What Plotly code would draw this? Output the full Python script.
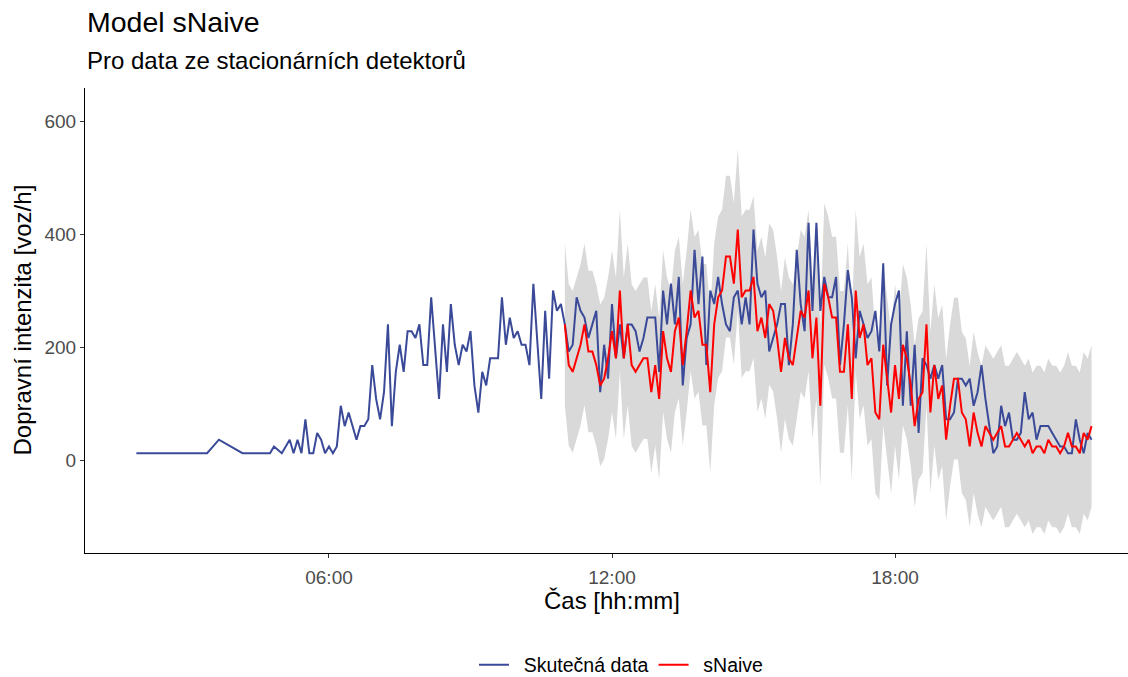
import plotly.graph_objects as go
import pandas as pd

# ---------------- data ----------------
day = "2021-03-01 "
actual_start = day + "01:55"
forecast_start = day + "11:00"
step = "5min"

# observed intensity [voz/h], 5-minute samples; None = missing sample (line drawn across)
actual_night = (
    [12] + [None] * 17 + [12, None, None, 36] + [None] * 5 + [12] + [None] * 6
    + [12, 24, None, 12, None, 36, 12, 36, 12, 72, 12, 12, 48, 36]
)
actual_morning = [
    12, 24, 12, 24, 96, 60, 84, 60, 36, 60,
    60, 72, 168, 108, 72, 120, 240, 60, 156, 204,
    156, 228, 228, 216, 240, 168, 168, 288, 204, 108,
    240, 156, 276, 204, 168, 204, 192, 228, 132, 84,
    156, 132, 180, 180, 180, 288, 204, 252, 216, 228,
    204, 204, 168, 312, 204, 108, 264, 144, 300, 264,
    276,
]
actual_forecast_period = [
    240, 192, 204, 288, 264, 252, 216, 240, 264, 120,
    204, 144, 276, 180, 240, 180, 240, 240, 228, 192,
    216, 252, 252, 252, 156, 300, 240, 312, 240, 324,
    132, 216, 240, 372, 276, 360, 168, 300, 276, 324,
    276, 240, 228, 288, 300, 240, 288, 240, 408, 312,
    288, 300, 192, 216, 240, 276, 276, 168, 240, 372,
    276, 228, 420, 264, 420, 264, 324, 288, 288, 324,
    168, 240, 336, 288, 180, 264, 240, 216, 228, 264,
    192, 348, 132, 240, 276, 300, 96, 228, 96, 204,
    48, 180, 168, 144, 168, 144, 168, 72, 72, 84,
    144, 144, 132, 144, 96, 120, 168, 108, 60, 12,
    24, 96, 60, 84, 36, 36, 48, 120, 72, 84,
    36, 60, 60, 60, 48, 36, 24, 24, 12, 12,
    72, 36, 12, 48, 36,
]

# sNaive point forecast [voz/h]
snaive_values = [
    240, 168, 156, 180, 204, 240, 192, 192, 168, 132,
    144, 180, 228, 180, 300, 180, 240, 168, 156, 168,
    180, 180, 120, 168, 108, 228, 180, 156, 228, 252,
    168, 228, 300, 252, 264, 204, 204, 120, 240, 288,
    300, 360, 360, 312, 408, 288, 300, 300, 324, 228,
    252, 216, 276, 264, 216, 156, 216, 180, 168, 216,
    264, 252, 300, 180, 252, 96, 312, 288, 252, 252,
    156, 156, 240, 108, 300, 216, 240, 168, 180, 84,
    72, 204, 144, 84, 168, 108, 204, 180, 132, 60,
    108, 120, 240, 84, 168, 108, 132, 36, 96, 144,
    144, 84, 72, 24, 84, 48, 24, 60, 48, 36,
    48, 60, 24, 24, 36, 48, 36, 24, 36, 12,
    24, 24, 12, 36, 24, 24, 12, 24, 48, 24,
    24, 12, 48, 36, 60,
]

# half width of the prediction interval (constant over the horizon)
interval_half_width = 143

tick_labels = ["06:00", "12:00", "18:00"]
y_ticks = [0, 200, 400, 600]

# ---------------- build ----------------
actual_values = actual_night + actual_morning + actual_forecast_period
actual_t = pd.date_range(actual_start, periods=len(actual_values), freq=step)
fc_t = pd.date_range(forecast_start, periods=len(snaive_values), freq=step)
lower = [v - interval_half_width for v in snaive_values]
upper = [v + interval_half_width for v in snaive_values]

FONT = "Liberation Sans, Arial, Helvetica, sans-serif"
BLUE = "#3A4A98"
RED = "#FF0000"
GAP = "\u2002"  # spacing between legend key and label

fig = go.Figure()
fig.add_trace(go.Scatter(x=fc_t, y=upper, mode="lines", line=dict(width=0),
                         showlegend=False, hoverinfo="skip"))
fig.add_trace(go.Scatter(x=fc_t, y=lower, mode="lines", line=dict(width=0),
                         fill="tonexty", fillcolor="#D9D9D9",
                         showlegend=False, hoverinfo="skip"))
fig.add_trace(go.Scatter(x=actual_t, y=actual_values, mode="lines", name=GAP + "Skutečná data",
                         line=dict(color=BLUE, width=2), connectgaps=True))
fig.add_trace(go.Scatter(x=fc_t, y=snaive_values, mode="lines", name=GAP + "sNaive",
                         line=dict(color=RED, width=2)))

# plot panel: left edge at x=85 px, continues to the right image edge (1128 px)
px_per_hour = 47.17
noon = pd.Timestamp(day + "12:00")
x_left = noon - pd.Timedelta(hours=(612 - 85) / px_per_hour)
x_right = noon + pd.Timedelta(hours=(1128 - 612) / px_per_hour)
panel_w = 1128 - 85

axis_common = dict(showgrid=False, zeroline=False, showline=True, linecolor="black",
                   linewidth=1, ticks="outside", ticklen=4, tickcolor="#333333",
                   automargin=False,
                   tickfont=dict(family=FONT, size=19, color="#4D4D4D"))

fig.update_layout(
    width=1128, height=677,
    margin=dict(l=85, r=0, t=88, b=124),
    paper_bgcolor="white", plot_bgcolor="white",
    font=dict(family=FONT, color="black"),
    xaxis=dict(type="date", range=[x_left, x_right],
               tickvals=[pd.Timestamp(day + t) for t in tick_labels],
               ticktext=tick_labels, ticklabelstandoff=3, **axis_common),
    yaxis=dict(range=[-164.6, 658.4], tickvals=y_ticks, ticklabelstandoff=0, **axis_common),
    legend=dict(orientation="h", xref="container", yref="container",
                x=621 / 1128, xanchor="center", y=1 - 665 / 677, yanchor="middle",
                traceorder="normal", itemwidth=30,
                font=dict(family=FONT, size=19.5, color="black"), bgcolor="rgba(0,0,0,0)"),
    showlegend=True,
)

fig.add_annotation(text="Model sNaive", xref="paper", yref="paper", x=0, y=(553 - 22) / 465,
                   xanchor="left", yanchor="middle", showarrow=False,
                   font=dict(family=FONT, size=28.5, color="black"))
fig.add_annotation(text="Pro data ze stacionárních detektorů", xref="paper", yref="paper",
                   x=0, y=(553 - 61) / 465, xanchor="left", yanchor="middle", showarrow=False,
                   font=dict(family=FONT, size=24, color="black"))
fig.add_annotation(text="Dopravní intenzita [voz/h]", xref="paper", yref="paper",
                   x=(22 - 85) / panel_w, y=0.5, textangle=-90, xanchor="center", yanchor="middle",
                   showarrow=False, font=dict(family=FONT, size=24, color="black"))
fig.add_annotation(text="Čas [hh:mm]", xref="paper", yref="paper", x=(611.5 - 85) / panel_w,
                   y=(553 - 600) / 465, xanchor="center", yanchor="middle", showarrow=False,
                   font=dict(family=FONT, size=24, color="black"))

fig.write_html("out.html")
